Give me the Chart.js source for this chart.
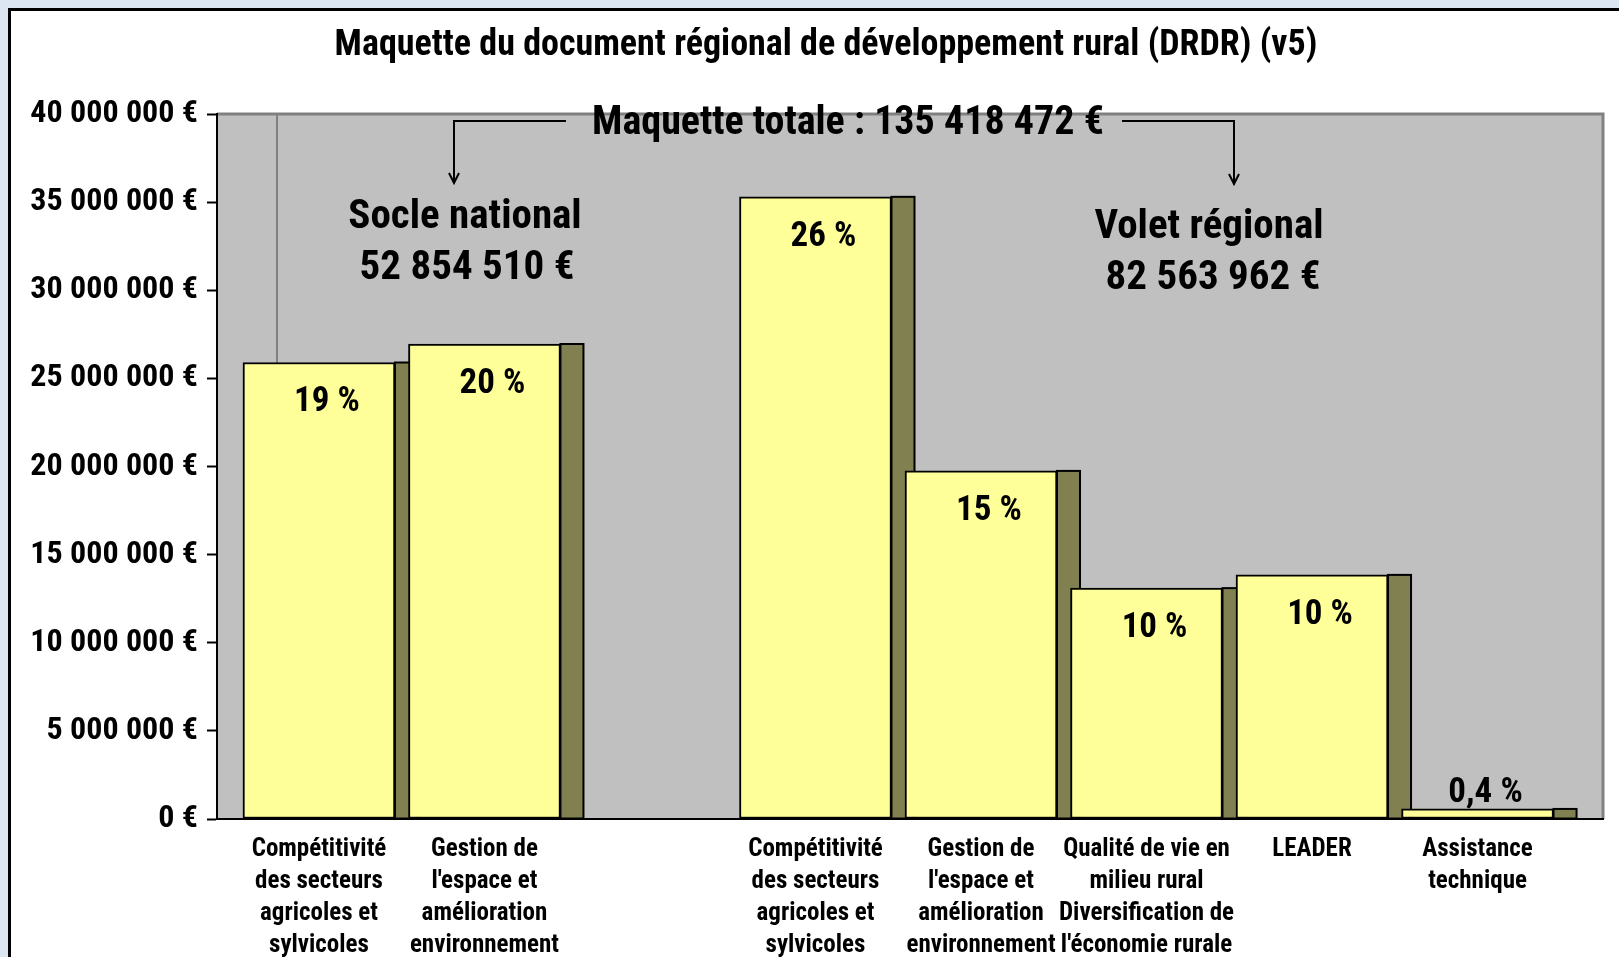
<!DOCTYPE html>
<html lang="fr">
<head>
<meta charset="utf-8">
<title>Maquette DRDR</title>
<script src="https://cdn.jsdelivr.net/npm/chart.js@4.4.0/dist/chart.umd.min.js"></script>
<style>
  html, body { margin: 0; padding: 0; width: 1619px; height: 957px; overflow: hidden; background: #dce6f2; }
  #frame { position: absolute; left: 8px; top: 8px; width: 1611px; height: 949px; background: #fff;
           border-top: 3px solid #000; border-left: 3px solid #000; box-sizing: border-box; }
  #chart { position: absolute; left: 0; top: 0; }
</style>
</head>
<body>
<div id="frame"></div>
<canvas id="chart" width="1619" height="957"></canvas>
<script>
// categories (multi-line labels), one empty slot separating the two groups
const categories = [
  ['Compétitivité', 'des secteurs', 'agricoles et', 'sylvicoles'],
  ['Gestion de', "l'espace et", 'amélioration', 'environnement'],
  [''],
  ['Compétitivité', 'des secteurs', 'agricoles et', 'sylvicoles'],
  ['Gestion de', "l'espace et", 'amélioration', 'environnement'],
  ['Qualité de vie en', 'milieu rural', 'Diversification de', "l'économie rurale"],
  ['LEADER'],
  ['Assistance', 'technique']
];
// amounts in euros
const amounts = [25900000, 26950000, null, 35300000, 19750000, 13100000, 13850000, 570000];
const shares = ['19 %', '20 %', '', '26 %', '15 %', '10 %', '10 %', '0,4 %'];
const yTicks = [0, 5000000, 10000000, 15000000, 20000000, 25000000, 30000000, 35000000, 40000000];

// find a narrow bold face among what is installed
function pickFont(list) {
  const c = document.createElement('canvas').getContext('2d');
  const sample = 'Maquette 0123456789 €';
  for (const f of list) {
    c.font = 'bold 40px "' + f + '", monospace';
    const a = c.measureText(sample).width;
    c.font = 'bold 40px "' + f + '", serif';
    const b = c.measureText(sample).width;
    if (a === b) return '"' + f + '"';
  }
  return 'sans-serif';
}
const FONT = pickFont(['Liberation Sans Narrow', 'Arial Narrow', 'Roboto Condensed', 'Noto Sans Condensed',
                       'Open Sans Condensed', 'Liberation Sans']);

// size factor so that "40 000 000 €" is about as wide as in the original
const K = (() => {
  const c = document.createElement('canvas').getContext('2d');
  c.font = 'bold 34px ' + FONT;
  const w = c.measureText('40 000 000 €').width;
  return Math.min(1.05, Math.max(0.78, 164 / w));
})();
const px = n => Math.round(n * K);

function euros(v) {
  return String(v).replace(/\B(?=(\d{3})+(?!\d))/g, ' ') + ' €';
}

// gray wall behind the bars
const plotBg = {
  id: 'plotBg',
  beforeDraw(chart) {
    const { ctx, chartArea: a } = chart;
    ctx.save();
    ctx.fillStyle = '#c0c0c0';
    ctx.fillRect(a.left, a.top, a.right - a.left, a.bottom - a.top);
    ctx.strokeStyle = '#808080';
    ctx.lineWidth = 3;
    ctx.beginPath();
    ctx.moveTo(a.left, a.top);
    ctx.lineTo(a.right, a.top);
    ctx.lineTo(a.right, a.bottom);
    ctx.stroke();
    ctx.lineWidth = 2;
    ctx.beginPath();
    ctx.moveTo(a.left + 60, a.top);
    ctx.lineTo(a.left + 60, a.bottom);
    ctx.stroke();
    ctx.restore();
  }
};

// dark side face of each bar
const sideFaces = {
  id: 'sideFaces',
  beforeDatasetsDraw(chart) {
    const { ctx } = chart;
    const meta = chart.getDatasetMeta(0);
    ctx.save();
    meta.data.forEach((bar, i) => {
      if (amounts[i] === null) return;
      const x = bar.x + bar.width / 2;
      ctx.fillStyle = '#808050';
      ctx.fillRect(x, bar.y, 23, bar.base - bar.y);
      ctx.strokeStyle = '#000';
      ctx.lineWidth = 2;
      ctx.strokeRect(x, bar.y, 23, bar.base - bar.y);
    });
    ctx.restore();
  }
};

// percentage labels
const shareLabels = {
  id: 'shareLabels',
  afterDatasetsDraw(chart) {
    const { ctx } = chart;
    const meta = chart.getDatasetMeta(0);
    ctx.save();
    ctx.fillStyle = '#000';
    ctx.font = 'bold ' + px(38) + 'px ' + FONT;
    ctx.textAlign = 'center';
    ctx.textBaseline = 'middle';
    meta.data.forEach((bar, i) => {
      if (amounts[i] === null) return;
      const tall = bar.base - bar.y > 60;
      ctx.fillText(shares[i], bar.x + 8, tall ? bar.y + 40 : bar.y - 16);
    });
    ctx.restore();
  }
};

// title, group captions and arrows
const notes = {
  id: 'notes',
  afterDraw(chart) {
    const { ctx } = chart;
    ctx.save();
    ctx.fillStyle = '#000';
    ctx.textAlign = 'center';
    ctx.textBaseline = 'middle';
    ctx.font = 'bold ' + px(39) + 'px ' + FONT;
    ctx.fillText('Maquette du document régional de développement rural (DRDR) (v5)', 826, 46);

    ctx.font = 'bold ' + px(43) + 'px ' + FONT;
    ctx.fillText('Maquette totale : 135 418 472 €', 848, 124);
    ctx.font = 'bold ' + px(44) + 'px ' + FONT;
    ctx.fillText('Socle national', 465, 218);
    ctx.fillText('52 854 510 €', 467, 269);
    ctx.fillText('Volet régional', 1209, 228);
    ctx.fillText('82 563 962 €', 1213, 279);

    ctx.strokeStyle = '#000';
    ctx.lineWidth = 2;
    ctx.beginPath();
    ctx.moveTo(566, 121); ctx.lineTo(454, 121); ctx.lineTo(454, 183);
    ctx.moveTo(449, 173); ctx.lineTo(454, 183); ctx.lineTo(459, 173);
    ctx.moveTo(1122, 121); ctx.lineTo(1234, 121); ctx.lineTo(1234, 184);
    ctx.moveTo(1229, 174); ctx.lineTo(1234, 184); ctx.lineTo(1239, 174);
    ctx.stroke();
    ctx.restore();
  }
};

const ctx = document.getElementById('chart').getContext('2d');
const chart = new Chart(ctx, {
  type: 'bar',
  data: {
    datasets: [{
      data: amounts.map((v, i) => ({ x: i, y: v })),
      backgroundColor: '#ffff99',
      borderColor: '#000',
      borderWidth: 2,
      borderSkipped: false,
      barThickness: 152
    }]
  },
  options: {
    responsive: false,
    animation: false,
    layout: { padding: { left: 0, right: 16, top: 114, bottom: 0 } },
    plugins: {
      legend: { display: false },
      tooltip: { enabled: false }
    },
    scales: {
      x: {
        type: 'linear',
        offset: false,
        min: -0.616,
        max: 7.758,
        afterBuildTicks: s => { s.ticks = categories.map((c, i) => ({ value: i })); },
        afterFit: s => { s.height = 138; },
        ticks: {
          callback: v => categories[v],
          autoSkip: false,
          maxRotation: 0,
          color: '#000',
          padding: 7,
          font: { family: FONT, size: px(27), weight: 'bold', lineHeight: '32px' }
        },
        grid: { display: false },
        border: { color: '#000', width: 2 }
      },
      y: {
        min: 0,
        max: 40000000,
        afterBuildTicks: s => { s.ticks = yTicks.map(v => ({ value: v })); },
        afterFit: s => { s.width = 217; },
        ticks: {
          callback: v => euros(v),
          color: '#000',
          padding: 9,
          font: { family: FONT, size: px(35), weight: 'bold' }
        },
        grid: { drawOnChartArea: false, tickLength: 10, tickColor: '#000', tickWidth: 2 },
        border: { color: '#000', width: 2 }
      }
    }
  },
  plugins: [plotBg, sideFaces, shareLabels, notes]
});
</script>
</body>
</html>
